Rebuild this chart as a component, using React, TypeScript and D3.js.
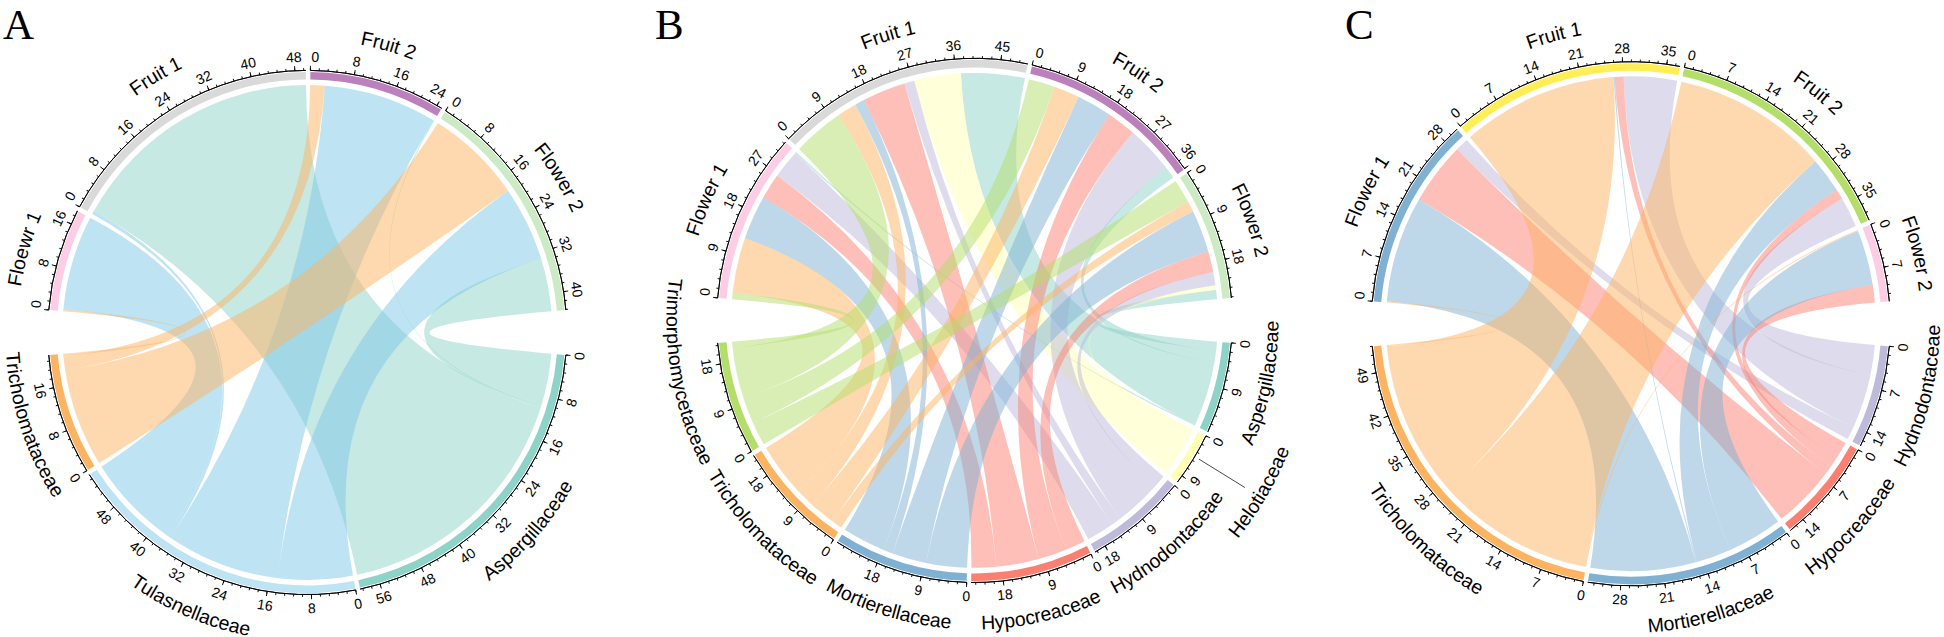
import React from 'react';
import * as d3 from 'd3';

// Panel A
const samplesA = ['Floewr 1', 'Fruit 1', 'Fruit 2', 'Flower 2'];
const taxaA = ['Aspergillaceae', 'Tulasnellaceae', 'Tricholomataceae'];
const flower1A = [0, 18.2, 0.4];
const fruit1A = [49.3, 0.7, 0];
const fruit2A = [0.2, 22, 2.8];
const flower2A = [10.2, 14.4, 18.7];

// Panel B
const samplesB = ['Flower 1', 'Fruit 1', 'Fruit 2', 'Flower 2'];
const taxaB = ['Aspergillaceae', 'Helotiaceae', 'Hydnodontaceae', 'Hypocreaceae', 'Mortierellaceae', 'Tricholomataceae', 'Trimorphomycetaceae'];
const flower1B = [0.3, 0, 5.8, 5.2, 9, 11.2, 1.3];
const fruit1B = [13.1, 9.6, 2.1, 8.9, 2, 4, 10.5];
const fruit2B = [2.5, 0, 9.7, 6, 7.2, 5.3, 5.4];
const flower2B = [1.9, 0.9, 2.7, 4.2, 8.6, 2.2, 4.9];

// Panel C
const samplesC = ['Flower 1', 'Fruit 1', 'Fruit 2', 'Flower 2'];
const taxaC = ['Hydnodontaceae', 'Hypocreaceae', 'Mortierellaceae', 'Tricholomataceae'];
const flower1C = [2.2, 10.5, 17.8, 0.2];
const fruit1C = [9, 1.5, 0.2, 26.4];
const fruit2C = [5.1, 1.7, 5.9, 26.4];
const flower2C = [0, 2.9, 9.3, 0.2];

// colours
const set3: Record<string, string> = {
  teal: '#8DD3C7', yellow: '#FFFFB3', lilac: '#BEBADA', red: '#FB8072', blue: '#80B1D3', orange: '#FDB462',
  green: '#B3DE69', pink: '#FCCDE5', grey: '#D9D9D9', purple: '#BC80BD', mint: '#CCEBC5', gold: '#FFEE55',
};
const sky = '#BEE3F2';
const skyLink = '#7EC8E8';

const panels = [
  {
    letter: 'A', letterX: 3, cx: 307.3, cy: 332.5, sx: 1, sy: 1.01, tick: 8,
    samples: samplesA, taxa: taxaA, matrix: [flower1A, fruit1A, fruit2A, flower2A],
    sampleColors: [set3.pink, set3.grey, set3.purple, set3.mint],
    taxaColors: [set3.teal, sky, set3.orange],
    linkColors: [set3.teal, skyLink, set3.orange],
    nameShifts: {
      Tricholomataceae: { dr: -4, da: 0 },
    },
  },
  {
    letter: 'B', letterX: 655, cx: 974.5, cy: 320.4, sx: 0.9935, sy: 1.01, tick: 9,
    samples: samplesB, taxa: taxaB, matrix: [flower1B, fruit1B, fruit2B, flower2B],
    sampleColors: [set3.pink, set3.grey, set3.purple, set3.mint],
    taxaColors: [set3.teal, set3.yellow, set3.lilac, set3.red, set3.blue, set3.orange, set3.green],
    linkColors: [set3.teal, set3.yellow, set3.lilac, set3.red, set3.blue, set3.orange, set3.green],
    nameShifts: {
      Aspergillaceae: { dr: 0, da: -3 },
      Helotiaceae: { dr: 36, da: -1.5 },
      Hydnodontaceae: { dr: 0, da: -2 },
      Tricholomataceae: { dr: 3, da: 0 },
      Trimorphomycetaceae: { dr: 4, da: 7.5 },
    },
  },
  {
    letter: 'C', letterX: 1345, cx: 1630.8, cy: 323.8, sx: 1, sy: 1.01, tick: 7,
    samples: samplesC, taxa: taxaC, matrix: [flower1C, fruit1C, fruit2C, flower2C],
    sampleColors: [set3.blue, set3.gold, set3.green, set3.pink],
    taxaColors: [set3.lilac, set3.red, set3.blue, set3.orange],
    linkColors: [set3.lilac, set3.red, set3.blue, set3.orange],
    nameShifts: {
      Hydnodontaceae: { dr: 3, da: -2.5 },
      Hypocreaceae: { dr: 2, da: 2 },
      Mortierellaceae: { dr: 0, da: -2 },
      Tricholomataceae: { dr: 3, da: -4 },
    },
  },
];

const rAxis = 259.5;
const rBandOuter = 258;
const rBandInner = 250.5;
const rLink = 245;
const rTickLabel = 273;
const rNameTop = 290;
const rNameBottom = 306;
const bigGapHalf = 4.93;
const smallGap = 1;

const rad = (deg: number) => (deg * Math.PI) / 180;

// lay one half of the circle out: returns the angle scale of each sector
function layoutHalf(totals: number[], from: number, to: number) {
  const sum = d3.sum(totals);
  const scale = d3.scaleLinear().domain([0, sum]).range([0, to - from - smallGap * (totals.length - 1)]);
  let used = 0;
  return totals.map((total, i) => {
    const start = from + scale(used) + i * smallGap;
    used += total;
    const pos = d3.scaleLinear().domain([0, total]).range([start, start + scale(total)]);
    return { total, pos };
  });
}

function nameArc(r: number, mid: number, top: boolean) {
  const a0 = rad(mid - 70 - 90);
  const a1 = rad(mid + 70 - 90);
  const p0 = [r * Math.cos(a0), r * Math.sin(a0)];
  const p1 = [r * Math.cos(a1), r * Math.sin(a1)];
  return top
    ? `M${p0[0]},${p0[1]}A${r},${r} 0 0 1 ${p1[0]},${p1[1]}`
    : `M${p1[0]},${p1[1]}A${r},${r} 0 0 0 ${p0[0]},${p0[1]}`;
}

function Sector({ id, name, color, total, pos, tick, nameShift }: any) {
  const band = d3.arc().innerRadius(rBandInner).outerRadius(rBandOuter);
  const axis = d3.arc().innerRadius(rAxis).outerRadius(rAxis);
  const start = rad(pos(0));
  const end = rad(pos(total));
  const minor = d3.range(0, total + 1e-6, tick / 5);
  const major = d3.range(0, total + 1e-6, tick);
  const mid = pos(total / 2);
  const top = Math.abs(mid) < 90;
  const nameR = (top ? rNameTop : rNameBottom) + (nameShift ? nameShift.dr : 0);
  const nameMid = mid + (nameShift ? nameShift.da : 0);
  return (
    <g>
      <path d={band({ startAngle: start, endAngle: end } as any) as string} fill={color} />
      <path d={axis({ startAngle: start, endAngle: end } as any) as string} fill="none" stroke="#000" strokeWidth={0.9} />
      {minor.map((v) => (
        <line key={v} transform={`rotate(${pos(v)})`} y1={-rAxis} y2={-rAxis - 2.3} stroke="#000" strokeWidth={0.9} />
      ))}
      {major.map((v) => {
        const a = pos(v);
        // labels next to a sector edge are nudged so neighbouring sectors do not collide
        let labelA = a;
        if (v === 0 && top) labelA += 1;
        if (pos(total) - a < 2.5) labelA = pos(total) - 2.5;
        const flip = a > 90 ? ' rotate(180)' : '';
        return (
          <g key={v}>
            <line transform={`rotate(${a})`} y1={-rAxis} y2={-rAxis - 4.6} stroke="#000" strokeWidth={0.9} />
            <text transform={`rotate(${labelA}) translate(0,${-rTickLabel})${flip}`} dy="0.36em" textAnchor="middle" fontSize={14}>{v}</text>
          </g>
        );
      })}
      <path id={id} d={nameArc(nameR, nameMid, top)} fill="none" />
      <text fontSize={19.5}>
        <textPath href={`#${id}`} startOffset="50%" textAnchor="middle">{name}</textPath>
      </text>
    </g>
  );
}

function Panel({ panel }: any) {
  const { samples, taxa, matrix, tick, letter } = panel;
  const rowTotals = matrix.map((row: number[]) => d3.sum(row));
  const colTotals = taxa.map((_: string, j: number) => d3.sum(matrix, (row: number[]) => row[j]));
  const sampleSecs = layoutHalf(rowTotals, -90 + bigGapHalf, 90 - bigGapHalf);
  const taxaSecs = layoutHalf(colTotals, 90 + bigGapHalf, 270 - bigGapHalf);

  // order inside a sector runs through the opposite half backwards, so the links do not twist
  const sampleUsed = samples.map(() => 0);
  const taxaUsed = taxa.map(() => 0);
  const links: any[] = [];
  const sampleSpans: any = {};
  samples.forEach((_: string, i: number) => {
    for (let j = taxa.length - 1; j >= 0; j--) {
      const v = matrix[i][j];
      sampleSpans[`${i}-${j}`] = [sampleUsed[i], sampleUsed[i] + v];
      sampleUsed[i] += v;
    }
  });
  taxa.forEach((_: string, j: number) => {
    for (let i = samples.length - 1; i >= 0; i--) {
      const v = matrix[i][j];
      if (v > 0) {
        const s = sampleSpans[`${i}-${j}`];
        links.push({
          j,
          source: { startAngle: rad(sampleSecs[i].pos(s[0])), endAngle: rad(sampleSecs[i].pos(s[1])) },
          target: { startAngle: rad(taxaSecs[j].pos(taxaUsed[j])), endAngle: rad(taxaSecs[j].pos(taxaUsed[j] + v)) },
        });
      }
      taxaUsed[j] += v;
    }
  });

  const ribbon = d3.ribbon().radius(rLink) as any;
  return (
    <g>
      <text x={panel.letterX} y={38.5} fontFamily="'Liberation Serif', serif" fontSize={43}>{letter}</text>
      <g transform={`translate(${panel.cx},${panel.cy}) scale(${panel.sx},${panel.sy})`}>
        {links.map((d, k) => (
          <path key={k} d={ribbon(d)} fill={panel.linkColors[d.j]} fillOpacity={0.5} />
        ))}
        {samples.map((name: string, i: number) => (
          <Sector key={name} id={`${letter}-s${i}`} name={name} color={panel.sampleColors[i]} total={rowTotals[i]} pos={sampleSecs[i].pos} tick={tick} />
        ))}
        {taxa.map((name: string, j: number) => (
          <Sector key={name} id={`${letter}-t${j}`} name={name} color={panel.taxaColors[j]} total={colTotals[j]} pos={taxaSecs[j].pos} tick={tick}
            nameShift={panel.nameShifts[name]} />
        ))}
        {letter === 'B' && (
          <line transform="rotate(121.3)" y1={-264.5} y2={-318.5} stroke="#333" strokeWidth={0.8} />
        )}
      </g>
    </g>
  );
}

export default function App() {
  return (
    <svg width={1944} height={637} style={{ position: 'absolute', left: 0, top: 0, display: 'block', background: '#fff' }}
      fontFamily="'Liberation Sans', Arial, sans-serif">
      {panels.map((p) => <Panel key={p.letter} panel={p} />)}
    </svg>
  );
}
